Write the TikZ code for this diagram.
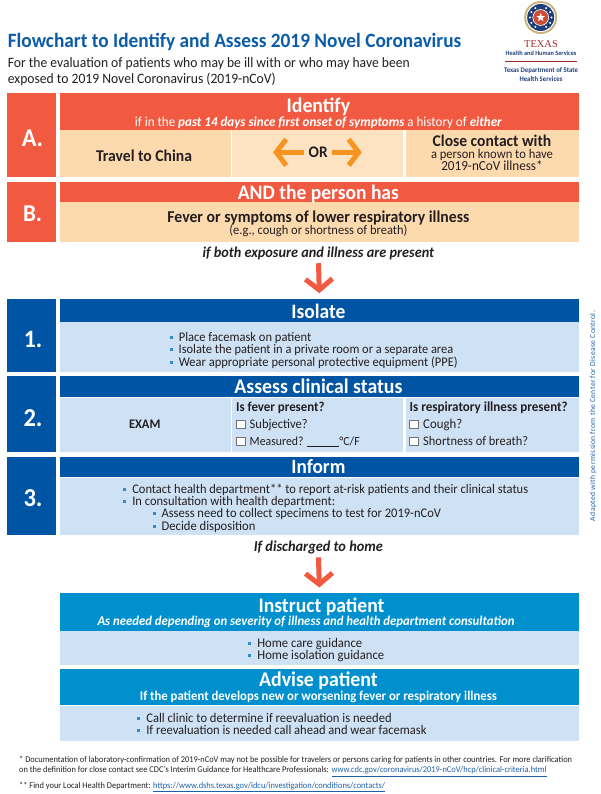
\documentclass[tikz,border=0pt]{standalone}
\usepackage{fontspec}
\setmainfont[FakeStretch=0.95]{Carlito}
\newfontfamily\logoserif{Liberation Serif}
\newfontfamily\sidefont[LetterSpace=5]{Carlito}
\usetikzlibrary{arrows.meta,shapes.geometric}
\definecolor{redc}{HTML}{F15A40}
\definecolor{peach}{HTML}{FDD9AE}
\definecolor{peachl}{HTML}{FEE3C3}
\definecolor{navy}{HTML}{0054A4}
\definecolor{lblue}{HTML}{CFE2F5}
\definecolor{cyanc}{HTML}{0090CE}
\definecolor{ink}{HTML}{231F20}
\definecolor{titleb}{HTML}{0B5CA8}
\definecolor{orangec}{HTML}{F7941E}
\definecolor{bulc}{HTML}{2E8FD0}
\definecolor{linkc}{HTML}{1F5FA8}
\definecolor{logoblue}{HTML}{1F3F7A}
\definecolor{logored}{HTML}{9E2A2B}
\definecolor{logogold}{HTML}{C9B27C}
\newcommand{\fs}[1]{\fontsize{#1}{#1}\selectfont}
\newcommand{\bul}{\textcolor{bulc}{\rule[.17em]{.24em}{.24em}}\hspace{.45em}}
\tikzset{
  x=1pt,y=-1pt,
  bx/.style={anchor=north west,inner sep=0pt,outer sep=0pt,draw=none},
  txt/.style={inner sep=0pt},
  chk/.style={anchor=north west,inner sep=0pt,outer sep=0pt,draw=black!55,fill=white,line width=.5pt,minimum width=9pt,minimum height=8.5pt},
  downarrow/.style={draw=redc,line width=5pt,-{Straight Barb[length=11pt,width=27pt,line width=5pt]}},
  orarrow/.style={draw=orangec,line width=5pt,-{Straight Barb[length=10pt,width=26pt,line width=5pt]}},
}
\newcommand{\boxat}[7]{\node[bx,fill=#2,minimum width=#5pt,minimum height=#6pt] (#1) at (#3,#4) {#7};}
% font size chosen so that the text has the target width
\newsavebox{\fitbox}
\newcommand{\fitnode}[8]{%
  \node[txt,anchor=#1,text=#6] (#2) at (#3,#4) {%
    \sbox{\fitbox}{#7\fs{10}#8}%
    \edef\fitw{\the\wd\fitbox}%
    \pgfmathsetmacro\fitsz{10*#5/\fitw}%
    #7\fs{\fitsz}\raisebox{-.33em}{#8}};}
\newcommand{\CT}[7]{\fitnode{base}{#1}{#2}{#3}{#4}{#5}{#6}{#7}}
\newcommand{\LT}[7]{\fitnode{base west}{#1}{#2}{#3}{#4}{#5}{#6}{#7}}
\begin{document}
\begin{tikzpicture}
\useasboundingbox (0,0) rectangle (600,794);
% title
\LT{title}{7.6}{40.5}{453.5}{titleb}{\bfseries}{Flowchart to Identify and Assess 2019 Novel Coronavirus}
\LT{sub1}{7.6}{62.5}{402}{ink}{}{For the evaluation of patients who may be ill with or who may have been}
\LT{sub2}{7.6}{78.5}{268}{ink}{}{exposed to 2019 Novel Coronavirus (2019-nCoV)}
% logo
\fill[logogold] (540.7,17.5) circle (16.5);
\fill[white] (540.7,17.5) circle (14.5);
\fill[logoblue] (540.7,17.5) circle (13.5);
\foreach \a in {-60,-30,0,30,60,120,150,180,210,240}{\fill[white] (540.7,17.5) ++(\a:10.8) circle (1.1);}
\fill[white] (540.7,17.5) circle (8.3);
\fill[redc!85!black] (540.7,17.5) circle (7.5);
\node[star,star points=5,star point ratio=2.4,fill=white,inner sep=0pt,minimum size=9pt] (logostar) at (540.7,17.5) {};
\CT{lg1}{541}{44}{33.7}{logored}{\logoserif}{TEXAS}
\CT{lg2}{541}{53.7}{70.8}{logoblue}{\bfseries}{Health and Human Services}
\coordinate (lgA) at (505,61);
\coordinate (lgB) at (577,61);
\draw[logored,line width=.5pt] (lgA) -- (lgB);
\CT{lg3}{541}{70}{73.9}{logoblue}{\bfseries}{Texas Department of State}
\CT{lg4}{541}{79}{42.9}{logoblue}{\bfseries}{Health Services}
% A
\boxat{aL}{redc}{6.5}{93}{49}{84}{}
\boxat{aH}{redc}{60}{93}{519}{37}{}
\boxat{aC1}{peach}{60}{130.5}{170.5}{46.5}{}
\boxat{aC2}{peachl}{232}{130.5}{171}{46.5}{}
\boxat{aC3}{peach}{405.5}{130.5}{173.5}{46.5}{}
\CT{aN}{32.5}{138}{21.4}{white}{\bfseries}{A.}
\CT{t1}{318.4}{106}{63.5}{white}{\bfseries}{Identify}
\CT{t2}{318.4}{121.7}{367}{white}{}{if in the \textbf{\itshape past 14 days since first onset of symptoms} a history of \textbf{\itshape either}}
\CT{travel}{144}{155.7}{96}{ink}{\bfseries}{Travel to China}
\CT{or}{318.2}{152.3}{19}{ink}{\bfseries}{OR}
\coordinate (orL) at (273,152.3);
\coordinate (orR) at (361.8,152.3);
\coordinate (orC) at (318.2,152.3);
\draw[orarrow,shorten <=14pt] (orC) -- (orL);
\draw[orarrow,shorten <=14pt] (orC) -- (orR);
\CT{c1}{492}{141}{118.6}{ink}{\bfseries}{Close contact with}
\CT{c2}{492}{154.3}{122}{ink}{}{a person known to have}
\CT{c3}{492}{166}{101.4}{ink}{}{2019-nCoV illness*}
% B
\boxat{bL}{redc}{6.5}{182}{49}{60}{}
\boxat{bH}{redc}{60}{182}{519}{20}{}
\boxat{bC}{peach}{60}{202.5}{519}{39.5}{}
\CT{bN}{32.5}{213.5}{19}{white}{\bfseries}{B.}
\CT{t3}{318.4}{192.3}{161}{white}{\bfseries}{AND the person has}
\CT{t4}{318.4}{216.7}{302}{ink}{\bfseries}{Fever or symptoms of lower respiratory illness}
\CT{t5}{318.4}{230}{178}{ink}{}{(e.g., cough or shortness of breath)}
\CT{cond1}{318.4}{252.7}{231.5}{ink}{\bfseries\itshape}{if both exposure and illness are present}
% 1
\boxat{oL}{navy}{6.5}{298.7}{49}{73}{}
\boxat{oH}{navy}{60}{298.7}{519}{23}{}
\boxat{oC}{lblue}{60}{322.2}{519}{49.5}{}
\CT{oN}{33}{339}{18.4}{white}{\bfseries}{1.}
\CT{t6}{318.4}{311.7}{54}{white}{\bfseries}{Isolate}
\LT{i1}{169.5}{336.7}{141.6}{ink}{}{\bul Place facemask on patient}
\LT{i2}{169.5}{349}{283.6}{ink}{}{\bul Isolate the patient in a private room or a separate area}
\LT{i3}{169.5}{361.7}{288}{ink}{}{\bul Wear appropriate personal protective equipment (PPE)}
\draw[downarrow,shorten <=3pt,shorten >=5.5pt] (cond1.south) -- (oH.north);
% 2
\boxat{tL}{navy}{6.5}{376.3}{49}{75.7}{}
\boxat{tH}{navy}{60}{376.3}{519}{21}{}
\boxat{tC1}{lblue}{60}{397.8}{171}{54.2}{}
\boxat{tC2}{lblue}{232}{397.8}{171}{54.2}{}
\boxat{tC3}{lblue}{405.5}{397.8}{173.5}{54.2}{}
\CT{tN}{33}{417.7}{19}{white}{\bfseries}{2.}
\CT{t7}{318.4}{387}{168}{white}{\bfseries}{Assess clinical status}
\CT{exam}{144.7}{424.3}{31.4}{ink}{\bfseries}{EXAM}
\LT{f0}{236}{407}{88.4}{ink}{\bfseries}{Is fever present?}
\node[chk] (fc1) at (236,420) {};
\LT{f1}{249.5}{424.3}{58}{ink}{}{Subjective?}
\node[chk] (fc2) at (236,437) {};
\LT{f2}{249.5}{441}{110}{ink}{}{Measured? \rule[-.08em]{2.6em}{.04em}°C/F}
\LT{r0}{409.5}{407}{158}{ink}{\bfseries}{Is respiratory illness present?}
\node[chk] (rc1) at (409.5,420) {};
\LT{r1}{423}{424.3}{39}{ink}{}{Cough?}
\node[chk] (rc2) at (409.5,437) {};
\LT{r2}{423}{441}{105}{ink}{}{Shortness of breath?}
% 3
\boxat{hL}{navy}{6.5}{456.7}{49}{78}{}
\boxat{hH}{navy}{60}{456.7}{519}{20.3}{}
\boxat{hC}{lblue}{60}{477.5}{519}{57.2}{}
\CT{hN}{33}{497.7}{19}{white}{\bfseries}{3.}
\CT{t8}{318.4}{467}{54}{white}{\bfseries}{Inform}
\LT{n1}{123}{489}{405}{ink}{}{\bul Contact health department** to report at-risk patients and their clinical status}
\LT{n2}{123}{500.7}{212}{ink}{}{\bul In consultation with health department:}
\LT{n3}{152.3}{512.7}{288.5}{ink}{}{\bul Assess need to collect specimens to test for 2019-nCoV}
\LT{n4}{152.3}{525.7}{103}{ink}{}{\bul Decide disposition}
\CT{cond2}{318.4}{546.7}{129}{ink}{\bfseries\itshape}{If discharged to home}
% Instruct
\boxat{iH}{cyanc}{60}{593}{519}{37.7}{}
\boxat{iC}{lblue}{60}{631.2}{519}{33.5}{}
\CT{t9}{321.5}{605.3}{126}{white}{\bfseries}{Instruct patient}
\CT{t10}{306}{620.7}{417}{white}{\bfseries\itshape}{As needed depending on severity of illness and health department consultation}
\LT{h1}{248}{643.3}{114}{ink}{}{\bul Home care guidance}
\LT{h2}{248}{655.3}{136}{ink}{}{\bul Home isolation guidance}
\draw[downarrow,shorten <=3pt,shorten >=5.5pt] (cond2.south) -- (iH.north);
% Advise
\boxat{vH}{cyanc}{60}{669.3}{519}{35.7}{}
\boxat{vC}{lblue}{60}{705.5}{519}{35.2}{}
\CT{t11}{318.4}{680}{118.6}{white}{\bfseries}{Advise patient}
\CT{t12}{318.4}{696}{357}{white}{\bfseries}{If the patient develops new or worsening fever or respiratory illness}
\LT{w1}{137}{717.7}{254.5}{ink}{}{\bul Call clinic to determine if reevaluation is needed}
\LT{w2}{137}{730}{289.3}{ink}{}{\bul If reevaluation is needed call ahead and wear facemask}
% footnotes
\LT{fn1}{19}{760}{553}{ink}{}{* Documentation of laboratory-confirmation of 2019-nCoV may not be possible for travelers or persons caring for patients in other countries. For more clarification}
\LT{fn2}{19}{770}{527.4}{ink}{}{on the definition for close contact see CDC's Interim Guidance for Healthcare Professionals: \textcolor{linkc}{\underline{www.cdc.gov/coronavirus/2019-nCoV/hcp/clinical-criteria.html}}}
\LT{fn3}{19}{785.7}{366}{ink}{}{** Find your Local Health Department: \textcolor{linkc}{\underline{https://www.dshs.texas.gov/idcu/investigation/conditions/contacts/}}}
% side
\node[txt,anchor=center,rotate=90,text=linkc] (side) at (593,416) {\sidefont\fs{7.6}Adapted with permission from the Center for Disease Control.};
\end{tikzpicture}
\end{document}
